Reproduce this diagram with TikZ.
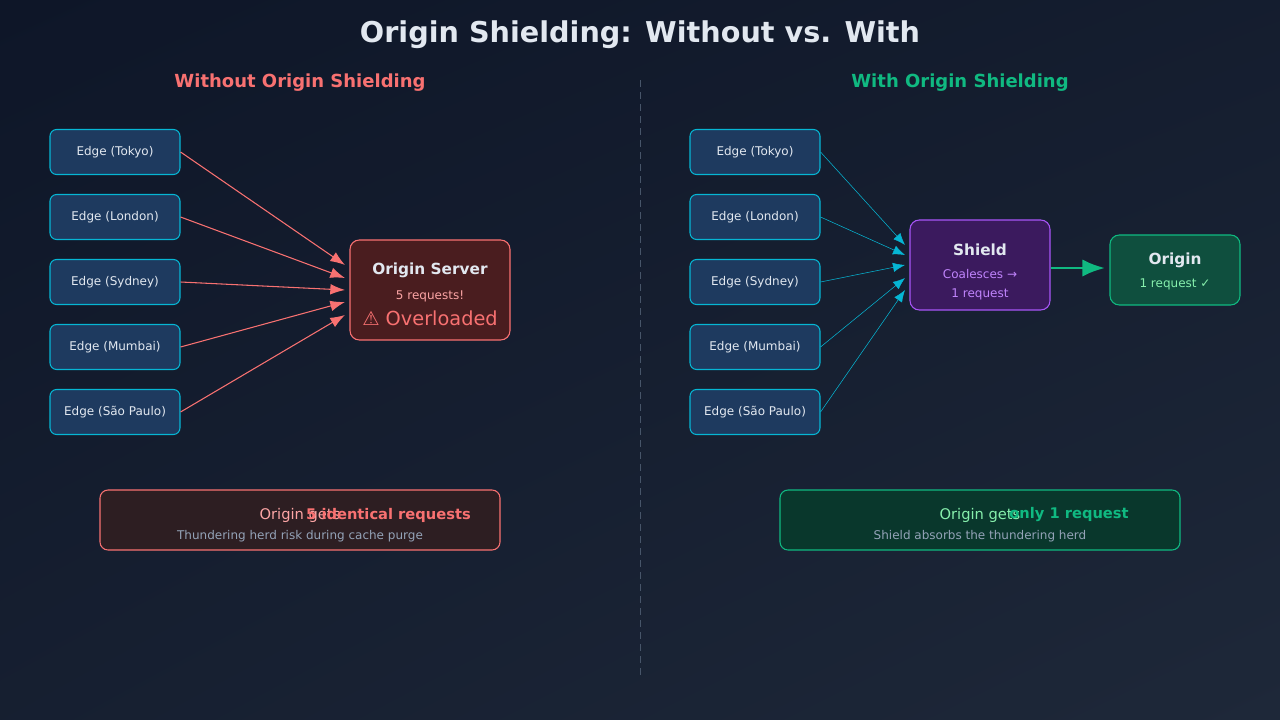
\documentclass[tikz,border=0pt]{standalone}
\usepackage{fontspec}
\setmainfont{DejaVu Sans}
\usetikzlibrary{arrows.meta, positioning, shadings}
\definecolor{bgA}{HTML}{0E1628}
\definecolor{bgB}{HTML}{1E2839}
\definecolor{txt}{HTML}{E2E8F0}
\definecolor{subtxt}{HTML}{94A3B8}
\definecolor{edgefill}{HTML}{1E3A5F}
\definecolor{cyanc}{HTML}{06B6D4}
\definecolor{redc}{HTML}{F87171}
\definecolor{redfill}{HTML}{4A1D1F}
\definecolor{pinkc}{HTML}{FCA5A5}
\definecolor{purc}{HTML}{A855F7}
\definecolor{purtxt}{HTML}{C084FC}
\definecolor{purfill}{HTML}{3B1A5E}
\definecolor{grnc}{HTML}{10B981}
\definecolor{grnfill}{HTML}{0F4F3E}
\definecolor{grntxt}{HTML}{86EFAC}
\definecolor{lnote}{HTML}{2D1E22}
\definecolor{rnote}{HTML}{09372C}
\definecolor{divc}{HTML}{475569}
\tikzset{
  edgebox/.style={rectangle, draw=cyanc, line width=0.8pt, fill=edgefill, minimum width=97.5pt, minimum height=33.75pt, rounded corners=5pt, text=txt, font=\fontsize{9}{10}\selectfont},
  notebox/.style={rectangle, line width=0.8pt, rounded corners=6pt, minimum width=300pt, minimum height=45pt},
  head/.style={font=\fontsize{13.5}{15}\selectfont\bfseries},
  redarr/.style={-{Latex[length=11pt,width=8pt]}, draw=redc, thick},
  cyarr/.style={-{Latex[length=9pt,width=7pt]}, draw=cyanc},
}
\begin{document}
\begin{tikzpicture}[x=0.75pt, y=-0.75pt]
  \useasboundingbox (0,0) rectangle (1280,720);
  \shade[upper left=bgA, upper right=bgA!60!bgB, lower left=bgA!50!bgB, lower right=bgB] (0,0) rectangle (1280,720);

  % Titles
  \node[text=txt, font=\fontsize{21.5}{25}\selectfont\bfseries] (title) at (640,35) {Origin Shielding: Without vs. With};
  \node[head, text=redc] (lhead) at (300,83) {Without Origin Shielding};
  \node[head, text=grnc] (rhead) at (960,83) {With Origin Shielding};
  \draw[divc, dashed, dash pattern=on 5pt off 4pt] (640,80) -- (640,675);

  % Left: without shielding
  \foreach \n/\city/\y in {1/Tokyo/152, 2/London/217, 3/Sydney/282, 4/Mumbai/347, 5/São Paulo/412}
    \node[edgebox] (le\n) at (115,\y) {Edge (\city)};
  \node[rectangle, draw=redc, thick, fill=redfill, rounded corners=7pt, minimum width=120pt, minimum height=75pt] (orig) at (430,290) {};
  \node[text=txt, font=\fontsize{11.5}{13}\selectfont\bfseries] (origt) at (430,270) {Origin Server};
  \node[text=pinkc, font=\fontsize{9}{10}\selectfont] (origc) at (430,296) {5 requests!};
  \node[text=redc, font=\fontsize{14.5}{16}\selectfont] (origw) at (430,318) {⚠ Overloaded};
  \foreach \n/\y in {1/265, 2/278, 3/290, 4/302, 5/315}
    \coordinate (lt\n) at (345,\y);
  \foreach \n in {1,...,5}
    \draw[redarr] (le\n.east) -- (lt\n);

  % Right: with shielding
  \foreach \n/\city/\y in {1/Tokyo/152, 2/London/217, 3/Sydney/282, 4/Mumbai/347, 5/São Paulo/412}
    \node[edgebox] (re\n) at (755,\y) {Edge (\city)};
  \node[rectangle, draw=purc, thick, fill=purfill, rounded corners=7pt, minimum width=105pt, minimum height=67.5pt] (shield) at (980,265) {};
  \node[text=txt, font=\fontsize{11.5}{13}\selectfont\bfseries] (shieldt) at (980,250) {Shield};
  \node[text=purtxt, font=\fontsize{9}{10}\selectfont] (shieldc) at (980,274) {Coalesces →};
  \node[text=purtxt, font=\fontsize{9}{10}\selectfont] (shieldr) at (980,294) {1 request};
  \foreach \n/\y in {1/245, 2/255, 3/265, 4/278, 5/290}
    \coordinate (rt\n) at (905,\y);
  \foreach \n in {1,...,5}
    \draw[cyarr] (re\n.east) -- (rt\n);
  \node[rectangle, draw=grnc, thick, fill=grnfill, rounded corners=7pt, minimum width=97.5pt, minimum height=52.5pt] (origin) at (1175,270) {};
  \node[text=txt, font=\fontsize{11.5}{13}\selectfont\bfseries] (origint) at (1175,260) {Origin};
  \node[text=grntxt, font=\fontsize{9}{10}\selectfont] (originc) at (1175,284) {1 request ✓};
  \coordinate (ot) at (1105,268);
  \draw[-{Latex[length=17pt,width=13pt]}, draw=grnc, fill=grnc, line width=2.2pt] (shield.east |- ot) -- (ot);

  % Notes
  \node[notebox, draw=redc, fill=lnote] (lnote) at (300,520) {};
  \node[text=pinkc, font=\fontsize{11}{12}\selectfont] (lnote1) at (300,515) {Origin gets};
  \node[text=redc, font=\fontsize{11}{12}\selectfont\bfseries] (lnote2) at (388.5,515) {5 identical requests};
  \node[text=subtxt, font=\fontsize{9}{10}\selectfont] (lnote3) at (300,536) {Thundering herd risk during cache purge};
  \node[notebox, draw=grnc, fill=rnote] (rnote) at (980,520) {};
  \node[text=grntxt, font=\fontsize{11}{12}\selectfont] (rnote1) at (980,515) {Origin gets};
  \node[text=grnc, font=\fontsize{11}{12}\selectfont\bfseries] (rnote2) at (1069,515) {only 1 request};
  \node[text=subtxt, font=\fontsize{9}{10}\selectfont] (rnote3) at (980,536) {Shield absorbs the thundering herd};
\end{tikzpicture}
\end{document}
